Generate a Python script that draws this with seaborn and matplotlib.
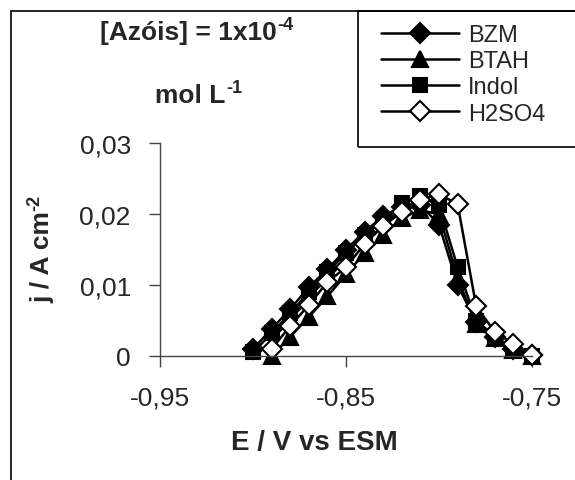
import numpy as np
import pandas as pd
import matplotlib
matplotlib.use('Agg')
import matplotlib.pyplot as plt
import seaborn as sns
from matplotlib.patches import Rectangle

# Dados (E em V vs ESM, j em A cm-2)
E_bzm = [-0.90, -0.89, -0.88, -0.87, -0.86, -0.85, -0.84, -0.83, -0.82, -0.81,
         -0.80, -0.79, -0.78, -0.77, -0.76, -0.75]
j_bzm = [0.0010, 0.0038, 0.0066, 0.0097, 0.0122, 0.0150, 0.0175, 0.0197, 0.0210, 0.0213,
         0.0185, 0.0100, 0.0048, 0.0027, 0.0010, 0.0002]

E_btah = [-0.89, -0.88, -0.87, -0.86, -0.85, -0.84, -0.83, -0.82, -0.81,
          -0.80, -0.79, -0.78, -0.77, -0.76, -0.75]
j_btah = [0.0000, 0.0027, 0.0055, 0.0084, 0.0115, 0.0145, 0.0170, 0.0195, 0.0205,
          0.0200, 0.0110, 0.0045, 0.0025, 0.0008, 0.0000]

E_indol = [-0.90, -0.89, -0.88, -0.87, -0.86, -0.85, -0.84, -0.83, -0.82, -0.81,
           -0.80, -0.79, -0.78, -0.77, -0.76, -0.75]
j_indol = [0.0005, 0.0032, 0.0060, 0.0090, 0.0118, 0.0145, 0.0170, 0.0192, 0.0215, 0.0225,
           0.0212, 0.0125, 0.0050, 0.0028, 0.0010, 0.0000]

E_h2so4 = [-0.89, -0.88, -0.87, -0.86, -0.85, -0.84, -0.83, -0.82, -0.81,
           -0.80, -0.79, -0.78, -0.77, -0.76, -0.75]
j_h2so4 = [0.0010, 0.0042, 0.0072, 0.0104, 0.0125, 0.0158, 0.0183, 0.0203, 0.0220,
           0.0228, 0.0214, 0.0070, 0.0034, 0.0017, 0.0001]

xticks = [-0.95, -0.85, -0.75]
xtick_labels = ['-0,95', '-0,85', '-0,75']
yticks = [0, 0.01, 0.02, 0.03]
ytick_labels = ['0', '0,01', '0,02', '0,03']

sns.set_style('white')
plt.rcParams['font.family'] = ['Liberation Sans', 'DejaVu Sans']

fig = plt.figure(figsize=(5.75, 4.81), dpi=100)
ax = fig.add_axes([0.2783, 0.2578, 0.6469, 0.4428])

series = [
    ('BZM', E_bzm, j_bzm, 'D', 'black', 10),
    ('BTAH', E_btah, j_btah, '^', 'black', 11.5),
    ('Indol', E_indol, j_indol, 's', 'black', 9.5),
    ('H2SO4', E_h2so4, j_h2so4, 'D', 'white', 10),
]
for nome, E, j, mk, fc, ms in series:
    sns.lineplot(x=E, y=j, ax=ax, color='black', linewidth=1.8, marker=mk,
                 markersize=ms, markerfacecolor=fc, markeredgecolor='black',
                 markeredgewidth=1.5, label=nome, clip_on=False)

ax.set_xlim(-0.95, -0.75)
ax.set_ylim(0, 0.03)
ax.set_xticks(xticks)
ax.set_xticklabels(xtick_labels)
ax.set_yticks(yticks)
ax.set_yticklabels(ytick_labels)
ax.tick_params(axis='both', direction='out', length=8, width=1, color='#444444',
               labelsize=19, pad=13, left=True, bottom=True)
for s in ['top', 'right']:
    ax.spines[s].set_visible(False)
for s in ['left', 'bottom']:
    ax.spines[s].set_color('#444444')
    ax.spines[s].set_linewidth(1)

ax.set_xlabel('E / V vs ESM', fontsize=20, fontweight='bold')
ax.xaxis.set_label_coords(0.414, -0.404)
ax.xaxis.label.set_va('center')

# rótulo do eixo y com expoente em texto separado
ax.set_ylabel('j / A cm', fontsize=19, fontweight='bold')
ax.yaxis.set_label_coords(-0.317, 0.47)
ax.yaxis.label.set_va('center')
ax.annotate('-2', xy=(0, 1), xycoords=ax.yaxis.label, xytext=(-3, 0),
            textcoords='offset points', rotation=90, ha='left', va='bottom',
            fontsize=13, fontweight='bold')

# texto da concentração
t1 = fig.text(188 / 575, 1 - 33 / 481, '[Azóis] = 1x10', fontsize=19,
              fontweight='bold', ha='center', va='center')
t2 = fig.text(190 / 575, 1 - 96 / 481, 'mol L', fontsize=19,
              fontweight='bold', ha='center', va='center')
for t, sup in [(t1, '-4'), (t2, '-1')]:
    ax.annotate(sup, xy=(1, 1), xycoords=t, xytext=(0.5, 3),
                textcoords='offset points', ha='left', va='top',
                fontsize=13, fontweight='bold', annotation_clip=False)

ax.get_legend().remove()
h, l = ax.get_legend_handles_labels()
leg = fig.legend(h, l, loc='upper left',
                 bbox_to_anchor=(381 / 575, 1 - 25 / 481),
                 borderaxespad=0, fontsize=17, frameon=False,
                 handlelength=3.3, handletextpad=0.4,
                 labelspacing=0.18, borderpad=0, numpoints=1)

# caixa da legenda e moldura externa da figura
fig.patches.append(Rectangle((358 / 575, 1 - 148 / 481), 0.5, 136 / 481,
                             transform=fig.transFigure, fill=False,
                             edgecolor='black', linewidth=1.2))
fig.patches.append(Rectangle((11 / 575, -0.2), 1.5, 1.2 - 12 / 481,
                             transform=fig.transFigure, fill=False,
                             edgecolor='black', linewidth=1.2))

fig.savefig('out.png', dpi=100)
